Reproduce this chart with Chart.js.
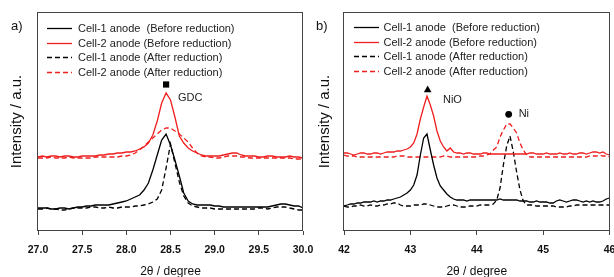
<!DOCTYPE html>
<html>
<head>
<meta charset="utf-8">
<script src="https://cdn.jsdelivr.net/npm/chart.js@4.4.0/dist/chart.umd.min.js"></script>
<style>
	body { margin: 0; background: #fff; }
	#wrap { position: relative; width: 614px; height: 277px; overflow: hidden; }
	canvas { position: absolute; top: 0; }
	#chartA { left: 0; }
	#chartB { left: 307px; }
	.tag { position: absolute; top: 18px; font: 13px "Liberation Sans", Arial, sans-serif; color: #111; }
</style>
</head>
<body>
<div id="wrap">
	<canvas id="chartA" width="320" height="277"></canvas>
	<canvas id="chartB" width="307" height="277"></canvas>
	<div class="tag" style="left:11px">a)</div>
	<div class="tag" style="left:316px">b)</div>
</div>
<script>
/* legend labels */
const seriesNames = ["Cell-1 anode  (Before reduction)", "Cell-2 anode (Before reduction)",
	"Cell-1 anode (After reduction)", "Cell-2 anode (After reduction)"];

/* 2theta sampling, degrees */
const twoThetaA = Array.from({length: 61}, (_, i) => +(27 + i * 0.05).toFixed(2));
const twoThetaB = Array.from({length: 81}, (_, i) => +(42 + i * 0.05).toFixed(2));

/* a) 27-30 deg, intensity a.u. */
const cell1BeforeA = [23,23,23,22,22,23,23,22,23,24, 24,25,25,26,26,26,26,27,28,29,
	30,32,34,36,41,48,61,76,91,97, 86,71,55,38,30,27,26,26,26,26,
	25,25,24,24,24,24,24,24,24,24, 24,24,24,25,26,27,27,26,25,25, 23];
const cell2BeforeA = [74,75,74,75,75,74,75,75,74,74, 75,75,75,75,76,76,77,77,78,78,
	79,79,80,82,84,88,96,110,128,138, 131,114,95,88,83,80,78,76,75,75,
	75,75,76,77,78,78,76,75,75,75, 74,74,75,75,74,74,74,75,74,74, 73];
const cell1AfterA = [22,22,23,22,22,21,21,22,23,23, 23,23,24,24,23,23,24,23,23,24,
	24,24,25,25,26,27,29,32,41,63, 87,68,49,35,28,25,24,23,23,23,
	22,22,22,22,22,22,22,22,22,22, 23,23,22,23,24,24,24,23,22,21, 21];
const cell2AfterA = [73,73,73,74,73,73,73,74,73,73, 73,73,73,74,74,74,74,74,74,75,
	75,76,78,81,85,89,93,97,101,103, 103,100,97,93,89,83,78,75,74,74,
	73,73,74,75,75,75,74,74,73,73, 73,73,73,73,73,73,73,73,72,72, 72];

/* b) 42-46 deg */
const cell1BeforeB = [25,26,27,27,28,28,29,29,29,30, 29,30,30,31,31,32,33,34,36,38,
	41,46,56,76,93,97,81,66,53,45, 41,37,34,32,31,31,31,30,31,31,
	31,31,31,31,31,31,31,32,31,31, 31,31,31,30,30,30,29,29,30,29,
	29,29,28,28,30,31,30,29,30,31, 31,30,29,30,29,30,29,29,30,32, 33];
const cell2BeforeB = [78,78,77,76,77,78,78,77,77,78, 78,77,78,79,79,79,80,80,81,82,
	84,88,97,112,124,135,126,115,100,90, 84,80,83,79,78,78,77,78,78,77,
	77,77,78,78,77,77,77,77,77,77, 77,77,77,77,77,77,78,78,77,77,
	77,78,77,77,77,78,77,77,78,77, 77,78,78,77,78,79,79,78,79,77, 76];
const cell1AfterB = [25,24,24,25,25,26,25,25,26,25, 25,26,26,27,27,28,28,26,25,25,
	25,26,26,26,27,27,26,25,24,24, 24,25,26,26,25,24,24,24,25,25,
	25,26,26,26,26,27,31,43,66,85, 95,79,59,41,30,26,26,26,25,25,
	25,25,25,25,24,24,24,24,25,25, 26,26,26,26,26,26,26,26,26,26, 26];
const cell2AfterB = [76,75,75,75,74,74,74,74,74,74, 74,74,74,74,74,74,75,75,75,74,
	74,74,74,74,74,74,74,74,74,74, 75,75,74,74,74,74,74,74,74,74,
	74,75,75,76,77,81,84,94,101,107, 107,103,98,88,81,76,74,74,74,74,
	74,74,74,74,74,74,74,74,74,74, 74,74,74,74,75,75,75,76,75,75, 74];

/* peak markers and their labels */
const markStylesA = ["rect"];
const markXA = [28.45];
const markYA = [146.5];
const noteTextA = ["GDC"];
const noteXA = [28.585];
const noteYA = [133];

const markStylesB = ["triangle", "circle"];
const markXB = [43.26, 44.48];
const markYB = [141, 116.7];
const noteTextB = ["NiO", "Ni"];
const noteXB = [43.49, 44.63];
const noteYB = [131, 117];

const RED = "rgb(240, 30, 30)";
const FONT = "'Liberation Sans', Arial, sans-serif";
Chart.defaults.font.family = FONT;

// box around the plot area
const framePlugin = {
	id: "frame",
	afterDatasetsDraw(chart) {
		const ctx = chart.ctx, a = chart.chartArea;
		ctx.save();
		ctx.strokeStyle = "#444";
		ctx.lineWidth = 1;
		ctx.strokeRect(Math.round(a.left) - 0.5, Math.round(a.top) + 0.5,
			Math.round(a.right - a.left), Math.round(a.bottom - a.top) - 1);
		ctx.restore();
	}
};

// legend inside the top left corner
const insideLegend = {
	id: "insideLegend",
	afterDraw(chart, args, opts) {
		const ctx = chart.ctx, a = chart.chartArea;
		ctx.save();
		ctx.font = "11px " + FONT;
		ctx.textBaseline = "middle";
		ctx.fillStyle = "#222";
		chart.data.datasets.forEach((ds, i) => {
			if (!ds.label) return;
			const y = Math.round(a.top + opts.top + i * opts.row) + 0.5;
			ctx.strokeStyle = ds.borderColor;
			ctx.lineWidth = 1.3;
			ctx.setLineDash(ds.borderDash || []);
			ctx.beginPath();
			ctx.moveTo(a.left + opts.lineX, y);
			ctx.lineTo(a.left + opts.lineX + 25, y);
			ctx.stroke();
			ctx.fillText(ds.label, a.left + opts.textX, y);
		});
		ctx.restore();
	}
};

// text next to the peak markers
const peakNotes = {
	id: "peakNotes",
	afterDraw(chart, args, opts) {
		const ctx = chart.ctx, sx = chart.scales.x, sy = chart.scales.y;
		ctx.save();
		ctx.font = "11px " + FONT;
		ctx.textBaseline = "middle";
		ctx.fillStyle = "#222";
		opts.text.forEach((t, i) => {
			ctx.fillText(t, sx.getPixelForValue(opts.x[i]), sy.getPixelForValue(opts.y[i]));
		});
		ctx.restore();
	}
};

function pts(xs, ys) {
	return xs.map((x, i) => ({x: x, y: ys[i]}));
}

function panel(id, xs, series, xMin, xMax, step, dec, marks, notes, lay) {
	const colors = ["#000", RED, "#000", RED];
	const dashes = [[], [], [5, 3], [5, 3]];
	const datasets = series.map((s, i) => ({
		label: seriesNames[i],
		data: pts(xs, s),
		borderColor: colors[i],
		borderDash: dashes[i],
		borderWidth: 1.3,
		pointRadius: 0,
		fill: false
	}));
	datasets.push({
		type: "scatter",
		data: pts(marks.x, marks.y),
		pointStyle: marks.styles,
		pointRadius: marks.styles.map(s => s === "circle" ? 3.4 : 4.4),
		backgroundColor: "#000",
		borderWidth: 0
	});

	return new Chart(document.getElementById(id), {
		type: "line",
		data: { datasets: datasets },
		options: {
			responsive: false,
			animation: false,
			layout: { padding: { top: 12, right: lay.right, bottom: 0, left: 0 } },
			plugins: {
				legend: { display: false },
				tooltip: { enabled: false },
				insideLegend: { lineX: lay.lineX, textX: lay.textX, top: lay.top, row: 14.6 },
				peakNotes: notes
			},
			scales: {
				x: {
					type: "linear",
					min: xMin,
					max: xMax,
					ticks: {
						stepSize: step,
						padding: 9,
						color: "#111",
						font: { size: 10.5, weight: "bold" },
						callback: v => v.toFixed(dec)
					},
					grid: { drawOnChartArea: false, drawTicks: true, tickLength: 4, color: "#444" },
					border: { display: false },
					title: { display: true, text: "2θ / degree", color: "#111", font: { size: 12 },
						padding: { top: 0, bottom: -2 } },
					afterFit: s => { s.height = 46; s.paddingLeft = 0; s.paddingRight = 0; }
				},
				y: {
					min: 0,
					max: 219,
					ticks: { display: false },
					grid: { display: false },
					border: { display: false },
					title: { display: true, text: "Intensity / a.u.", color: "#111", font: { size: 15 },
						padding: { top: lay.titlePad, bottom: 0 } },
					afterFit: s => { s.width = lay.yWidth; }
				}
			}
		},
		plugins: [framePlugin, insideLegend, peakNotes]
	});
}

panel("chartA", twoThetaA, [cell1BeforeA, cell2BeforeA, cell1AfterA, cell2AfterA], 27, 30, 0.5, 1,
	{ styles: markStylesA, x: markXA, y: markYA },
	{ text: noteTextA, x: noteXA, y: noteYA },
	{ right: 17, yWidth: 38, titlePad: 8, lineX: 9, textX: 40, top: 16 });

panel("chartB", twoThetaB, [cell1BeforeB, cell2BeforeB, cell1AfterB, cell2AfterB], 42, 46, 1, 0,
	{ styles: markStylesB, x: markXB, y: markYB },
	{ text: noteTextB, x: noteXB, y: noteYB },
	{ right: 4, yWidth: 37, titlePad: 9, lineX: 10, textX: 39.5, top: 15 });
</script>
</body>
</html>
